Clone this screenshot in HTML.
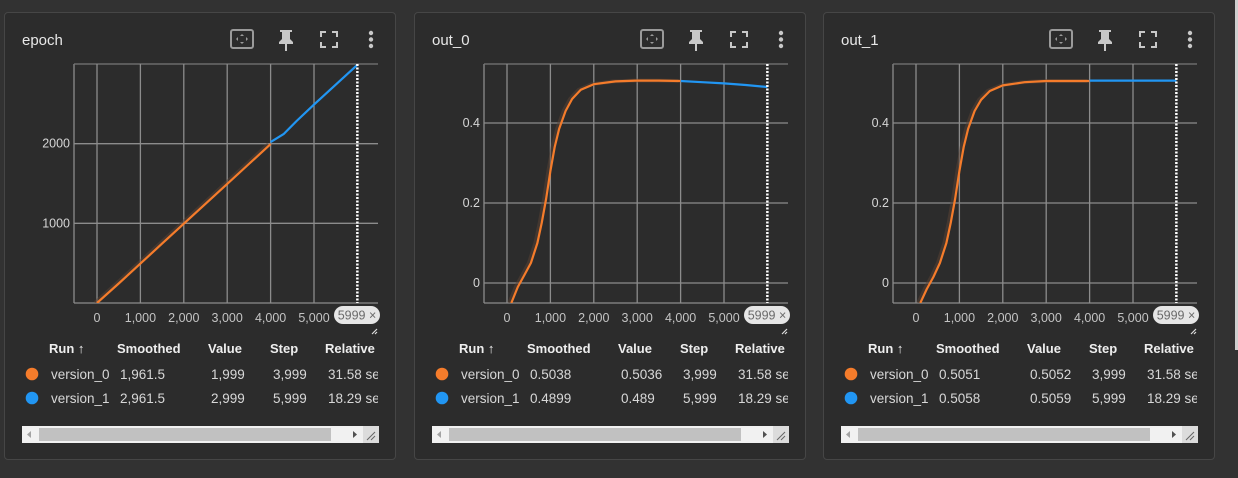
<!DOCTYPE html>
<html><head><meta charset="utf-8">
<style>
body{margin:0;width:1238px;height:478px;background:#323232;overflow:hidden;font-family:"Liberation Sans",sans-serif;position:relative}
.panel{position:absolute;top:12px;width:392px;height:448px;background:#2c2c2c;border:1px solid #464646;border-radius:4px;box-sizing:border-box}
svg{position:absolute;left:0;top:0}
</style></head><body>
<div style="position:absolute;left:1235px;top:0;width:3px;height:350px;background:#cfcfcf"></div>
<script>
const runs=["version_0","version_1"];
const runColors=["#f57c2b","#2196f3"];
const xTicks=[0,1000,2000,3000,4000,5000];
const xTickLabels=["0","1,000","2,000","3,000","4,000","5,000"];
const cursorStep=5999;
// epoch
const epochSteps0=[0,500,1000,1500,2000,2500,3000,3500,4000];
const epochVals0=[0,245,495,745,995,1245,1495,1745,1995];
const epochSteps1=[4000,4300,4600,5000,5500,5999];
const epochVals1=[2020,2120,2285,2490,2740,2990];
// out_0
const out0Steps0=[100,250,400,550,700,800,900,1000,1100,1200,1350,1500,1700,2000,2500,3000,3500,4000];
const out0Vals0=[-0.05,-0.01,0.02,0.05,0.1,0.15,0.21,0.28,0.34,0.385,0.43,0.46,0.483,0.497,0.504,0.506,0.506,0.505];
const out0Steps1=[4000,4500,5000,5500,5999];
const out0Vals1=[0.505,0.502,0.499,0.495,0.490];
// out_1
const out1Steps0=[100,250,400,550,700,800,900,1000,1100,1200,1350,1500,1700,2000,2500,3000,3500,4000];
const out1Vals0=[-0.05,-0.015,0.015,0.05,0.1,0.15,0.21,0.28,0.34,0.385,0.43,0.458,0.48,0.494,0.502,0.505,0.505,0.505];
const out1Steps1=[4000,5000,5999];
const out1Vals1=[0.506,0.506,0.506];

const tableSmoothed=[["1,961.5","2,961.5"],["0.5038","0.4899"],["0.5051","0.5058"]];
const tableValue=[["1,999","2,999"],["0.5036","0.489"],["0.5052","0.5059"]];
const tableStep=["3,999","5,999"];
const tableRel=["31.58 sec","18.29 sec"];

const charts=[
 {title:"epoch",left:4,ymin:0,ymax:3000,yticks:[1000,2000],ylab:["1000","2000"],s0:epochSteps0,v0:epochVals0,s1:epochSteps1,v1:epochVals1},
 {title:"out_0",left:414,ymin:-0.05,ymax:0.5475,yticks:[0,0.2,0.4],ylab:["0","0.2","0.4"],s0:out0Steps0,v0:out0Vals0,s1:out0Steps1,v1:out0Vals1},
 {title:"out_1",left:823,ymin:-0.05,ymax:0.5475,yticks:[0,0.2,0.4],ylab:["0","0.2","0.4"],s0:out1Steps0,v0:out1Vals0,s1:out1Steps1,v1:out1Vals1}
];
const NS="http://www.w3.org/2000/svg";
function mk(t,a,p){const e=document.createElementNS(NS,t);for(const k in a)e.setAttribute(k,a[k]);p.appendChild(e);return e;}
function txt(s,a,p){const e=mk("text",a,p);e.textContent=s;return e;}
charts.forEach((c,ci)=>{
 const d=document.createElement("div");d.className="panel";d.style.left=c.left+"px";
 
 
 document.body.appendChild(d);
 const svg=document.createElementNS(NS,"svg");svg.setAttribute("width",392);svg.setAttribute("height",448);d.appendChild(svg);
 const X0=69,X1=373,Y0=51,Y1=290;
 const xs=v=>92+(v/1000)*43.4;
 const ys=v=>Y1-(v-c.ymin)/(c.ymax-c.ymin)*(Y1-Y0);
 let t=txt(c.title,{x:17,y:32,fill:"#e8e8e8","font-size":15},svg);
 
 let g=mk("g",{},svg);
 mk("rect",{x:226,y:17,width:22,height:18,rx:2,fill:"none",stroke:"#9a9a9a","stroke-width":2},g);
 mk("path",{d:"M237 21l-2 2h4zM237 31l-2-2h4zM231 26l2-2v4zM243 26l-2-2v4z",fill:"#9a9a9a"},g);
 g=mk("g",{},svg);
 mk("path",{d:"M275 17h12v2h-2v7l3 3v2h-6v7h-2v-7h-6v-2l3-3v-7h-2z",fill:"#c8c8c8"},g);
 g=mk("g",{},svg);
 mk("path",{d:"M316 24v-5h5M327 19h5v5M332 29v5h-5M321 34h-5v-5",fill:"none",stroke:"#c8c8c8","stroke-width":2},g);
 g=mk("g",{},svg);
 [20,26.5,33].forEach(y=>mk("circle",{cx:366,cy:y,r:2.2,fill:"#c8c8c8"},g));
 const grid=mk("g",{stroke:"#8c8c8c","stroke-width":1.3},svg);
 mk("line",{x1:X0,y1:Y0,x2:X0,y2:Y1},grid);mk("line",{x1:X0,y1:Y1,x2:X1,y2:Y1},grid);
 mk("line",{x1:X0,y1:Y0,x2:X1,y2:Y0,stroke:"#777"},grid);
 xTicks.forEach((v,i)=>{mk("line",{x1:xs(v),y1:Y0,x2:xs(v),y2:Y1},grid);
  const l=txt(xTickLabels[i],{x:xs(v),y:Y1+19,fill:"#c4c4c4","font-size":12.5,"text-anchor":"middle"},svg);
  });
 c.yticks.forEach((v,i)=>{mk("line",{x1:X0,y1:ys(v),x2:X1,y2:ys(v)},grid);
  const l=txt(c.ylab[i],{x:X0-4,y:ys(v)+4,fill:"#d6d6d6","font-size":12.5,"text-anchor":"end"},svg);
  });
 const pth=(s,v)=>s.map((x,i)=>(i?"L":"M")+xs(x).toFixed(1)+" "+ys(v[i]).toFixed(1)).join("");
 const clip=mk("clipPath",{id:"cp"+ci},svg);mk("rect",{x:X0,y:Y0-2,width:X1-X0,height:Y1-Y0+2},clip);
 const sg=mk("g",{"clip-path":"url(#cp"+ci+")",fill:"none","stroke-linejoin":"round"},svg);
 let p=mk("path",{d:pth(c.s0,c.v0),stroke:"#5a4234","stroke-width":4,opacity:0.5,transform:"translate(-2,0)"},sg);
 
 p=mk("path",{d:pth(c.s0,c.v0),stroke:runColors[0],"stroke-width":2.2},sg);
 
 p=mk("path",{d:pth(c.s1,c.v1),stroke:runColors[1],"stroke-width":2.2},sg);
 
 const cx=xs(cursorStep);
 let cl=mk("line",{x1:cx,y1:Y0,x2:cx,y2:Y1,stroke:"#fff","stroke-width":2.5,"stroke-dasharray":"2 1.5"},svg);
 
 g=mk("g",{},svg);
 mk("rect",{x:329,y:293,width:46,height:18,rx:9,fill:"#e6e6e6"},g);
 txt("5999 ×",{x:352,y:306.5,fill:"#6a6a6a","font-size":12.5,"text-anchor":"middle"},g);
 mk("path",{d:"M367 321l5-5M370 321l2-2",stroke:"#ddd","stroke-width":1.2},svg);
 const hdr=[["Run ↑",44],["Smoothed",112],["Value",203],["Step",265],["Relative",320]];
 hdr.forEach(h=>{const e=txt(h[0],{x:h[1],y:340,fill:"#eee","font-size":13,"font-weight":"bold"},svg);
  });
 const tclip=mk("clipPath",{id:"tc"+ci},svg);mk("rect",{x:0,y:320,width:373,height:100},tclip);
 const tg=mk("g",{"clip-path":"url(#tc"+ci+")"},svg);
 runs.forEach((r,i)=>{const y=365+i*24;
  const dot=mk("circle",{cx:27,cy:y-4,r:6.3,fill:runColors[i]},tg);
  
  [[r,46],[tableSmoothed[ci][i],115],[tableValue[ci][i],206],[tableStep[i],268],[tableRel[i],323]].forEach(cc=>{
   const e=txt(cc[0],{x:cc[1],y:y+1,fill:"#d8d8d8","font-size":13.5},tg);
   });
 });
 g=mk("g",{},svg);
 mk("rect",{x:17,y:413,width:357,height:17,fill:"#f1f1f1"},g);
 mk("rect",{x:34,y:415,width:292,height:13,fill:"#c1c1c1"},g);
 mk("path",{d:"M26 418v7l-4-3.5z",fill:"#a3a3a3"},g);
 mk("path",{d:"M348 418v7l4-3.5z",fill:"#505050"},g);
 mk("rect",{x:358,y:413,width:16,height:17,fill:"#dcdcdc"},g);
 mk("path",{d:"M362 427l8-8M366 427l4-4",stroke:"#666","stroke-width":1},g);
});
</script>
</body></html>
